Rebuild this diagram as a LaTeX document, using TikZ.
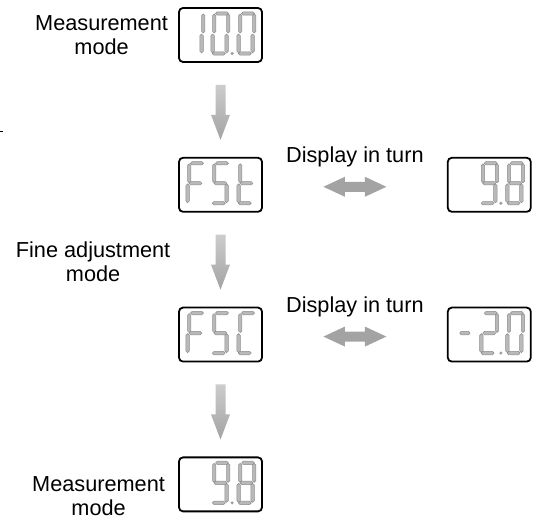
\documentclass[tikz,border=0pt]{standalone}
\usepackage{fontspec}
\setmainfont{Liberation Sans}
\usetikzlibrary{positioning}
\usetikzlibrary{calc}

\tikzset{
    lcdbox/.style={draw, line width=1.8pt, rounded corners=4pt, minimum width=83pt, minimum height=54pt, inner sep=0pt},
    modetext/.style={align=center, inner sep=0pt, font=\fontsize{21.7}{24}\selectfont},
    lcdseg/.style={fill=gray!55, draw=gray!90, line width=0.5pt},
    hseg/.pic={\path[lcdseg] (-6.5,0) -- (-4.8,1.7) -- (4.8,1.7) -- (6.5,0) -- (4.8,-1.7) -- (-4.8,-1.7) -- cycle;},
    vseg/.pic={\path[lcdseg] (0,-9.5) -- (1.7,-7.8) -- (1.7,7.8) -- (0,9.5) -- (-1.7,7.8) -- (-1.7,-7.8) -- cycle;},
    downarrow/.pic={\shade[top color=gray!40, bottom color=gray!72] (-5,25) -- (5,25) -- (5,-5) -- (9.5,-5) -- (0,-30) -- (-9.5,-5) -- (-5,-5) -- cycle;},
    turnarrow/.pic={\shade[left color=gray!72, middle color=gray!25, right color=gray!72] (-31.5,0) -- (-10,10) -- (-10,5) -- (10,5) -- (10,10) -- (31.5,0) -- (10,-10) -- (10,-5) -- (-10,-5) -- (-10,-10) -- cycle;},
}

% seven segments of one digit
\newcommand\sega{\pic at (7,40) {hseg};}
\newcommand\segb{\pic at (14,30) {vseg};}
\newcommand\segc{\pic at (14,10) {vseg};}
\newcommand\segd{\pic at (7,0) {hseg};}
\newcommand\sege{\pic at (0,10) {vseg};}
\newcommand\segf{\pic at (0,30) {vseg};}
\newcommand\segg{\pic at (7,20) {hseg};}
\newcommand\lcddigit[3]{%
    \begin{scope}[shift={($(#1.west)+(#2,-18.5)$)}, xslant=0.08]
        \foreach \s in {#3} {\csname seg\s\endcsname}
    \end{scope}}
\newcommand\lcddot[1]{\fill[gray!75] ($(#1.west)+(54,-18.5)$) circle (1.7);}

\begin{document}
\begin{tikzpicture}[x=1pt, y=1pt]
    \useasboundingbox (0,0) rectangle (536,521);

    \node [lcdbox] (m1) at (220.5,486) {};
    \node [lcdbox, below=94pt of m1] (fst) {};
    \node [lcdbox, below=94pt of fst] (fsc) {};
    \node [lcdbox, below=94pt of fsc] (m2) {};
    \node [lcdbox, right=184pt of fst] (r1) {};
    \node [lcdbox, right=184pt of fsc] (r2) {};

    % display contents
    \lcddigit{m1}{8.7}{b,c}
    \lcddigit{m1}{33.7}{a,b,c,d,e,f}
    \lcddigit{m1}{59.7}{a,b,c,d,e,f}
    \lcddot{m1}
    \lcddigit{fst}{8.7}{a,e,f,g}
    \lcddigit{fst}{33.7}{a,c,d,f,g}
    \lcddigit{fst}{59.7}{d,e,f,g}
    \lcddigit{r1}{33.7}{a,b,c,d,f,g}
    \lcddigit{r1}{59.7}{a,b,c,d,e,f,g}
    \lcddot{r1}
    \lcddigit{fsc}{8.7}{a,e,f,g}
    \lcddigit{fsc}{33.7}{a,c,d,f,g}
    \lcddigit{fsc}{59.7}{a,d,e,f}
    \pic [xscale=0.8] at ($(r2.west)+(18,1.5)$) {hseg};
    \lcddigit{r2}{33.7}{a,b,d,e,g}
    \lcddigit{r2}{59.7}{a,b,c,d,e,f}
    \lcddot{r2}
    \lcddigit{m2}{33.7}{a,b,c,d,f,g}
    \lcddigit{m2}{59.7}{a,b,c,d,e,f,g}
    \lcddot{m2}

    % arrows
    \coordinate (d1) at ($(m1.south)!0.5!(fst.north)$);
    \coordinate (d2) at ($(fst.south)!0.5!(fsc.north)$);
    \coordinate (d3) at ($(fsc.south)!0.5!(m2.north)$);
    \coordinate (t1) at ($(fst.east)!0.5!(r1.west)+(0,-2)$);
    \coordinate (t2) at ($(fsc.east)!0.5!(r2.west)+(0,-2)$);
    \pic at (d1) {downarrow};
    \pic at (d2) {downarrow};
    \pic at (d3) {downarrow};
    \pic at (t1) {turnarrow};
    \pic at (t2) {turnarrow};

    \node [modetext, left=10pt of m1] (l1) {Measurement\\mode};
    \node [modetext, above=19.5pt of t1] (l2) {Display in turn};
    \node [modetext, left=50pt of d2, yshift=-2pt] (l3) {Fine adjustment\\mode};
    \node [modetext, above=19.5pt of t2] (l4) {Display in turn};
    \node [modetext, left=13pt of m2, yshift=-12pt] (l5) {Measurement\\mode};

    \draw [line width=1.5pt] (0,389.5) -- (3,389.5);
\end{tikzpicture}
\end{document}
